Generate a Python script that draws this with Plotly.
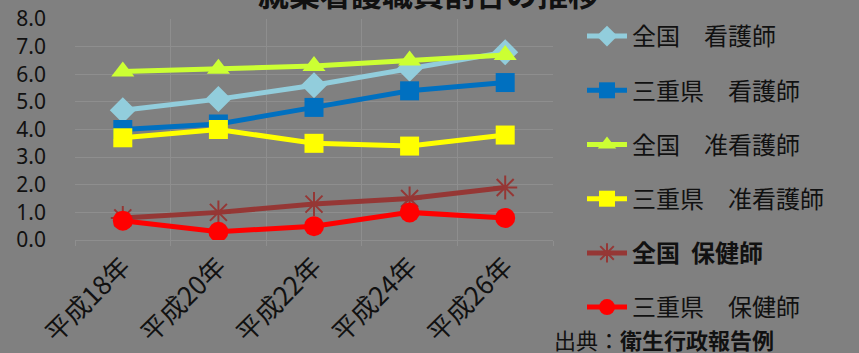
import plotly.graph_objects as go

years = ["平成18年", "平成20年", "平成22年", "平成24年", "平成26年"]

names = ["全国　看護師", "三重県　看護師", "全国　准看護師", "三重県　准看護師",
         "<b>全国  保健師</b>", "三重県　保健師"]
zenkoku_kango = [4.7, 5.1, 5.6, 6.2, 6.8]
mie_kango = [4.0, 4.2, 4.8, 5.4, 5.7]
zenkoku_junkango = [6.1, 6.2, 6.3, 6.5, 6.7]
mie_junkango = [3.7, 4.0, 3.5, 3.4, 3.8]
zenkoku_hoken = [0.8, 1.0, 1.3, 1.5, 1.9]
mie_hoken = [0.7, 0.3, 0.5, 1.0, 0.8]

series = [zenkoku_kango, mie_kango, zenkoku_junkango, mie_junkango, zenkoku_hoken, mie_hoken]
colors = ["#92cddc", "#0070c0", "#ccff33", "#ffff00", "#953735", "#ff0000"]
symbols = ["diamond", "square", "triangle-up", "square", "asterisk-open", "circle"]
sizes = [20, 19, 20, 19, 20, 20]

FONT = "Noto Sans CJK JP"
W, H = 859, 353
L, R, T, B = 75, 306, 19, 113

fig = go.Figure()
for i, (nm, vals) in enumerate(zip(names, series)):
    marker = dict(symbol=symbols[i], size=sizes[i], color=colors[i])
    if symbols[i] == "asterisk-open":
        marker["line"] = dict(color=colors[i], width=2)
    fig.add_trace(go.Scatter(
        x=years, y=vals, name=nm, mode="lines+markers",
        line=dict(color=colors[i], width=5),
        marker=marker, legendgroup=f"g{i}",
    ))

grid = "#8e8e8e"
fig.update_layout(
    width=W, height=H,
    margin=dict(l=L, r=R, t=T, b=B),
    paper_bgcolor="#808080", plot_bgcolor="#808080",
    font=dict(family=FONT, color="#111111"),
    showlegend=True,
    legend=dict(
        xref="container", yref="container",
        x=582 / W, y=1 - 14 / H, xanchor="left", yanchor="top",
        bgcolor="rgba(0,0,0,0)", font=dict(size=24, family=FONT, color="#111111"),
        tracegroupgap=20, itemwidth=40, maxheight=1.0,
    ),
    xaxis=dict(
        type="category", range=[-0.5, 4.5], automargin=False,
        showgrid=True, gridcolor=grid, gridwidth=1, tickson="boundaries",
        ticks="outside", ticklen=5, tickcolor=grid,
        showline=True, linecolor=grid, linewidth=1,
        tickangle=-45, tickfont=dict(size=26, family=FONT, color="#111111"),
    ),
    yaxis=dict(
        range=[0, 8], dtick=1, tickformat=".1f", automargin=False,
        showgrid=True, gridcolor=grid, gridwidth=1, zeroline=False,
        ticks="", ticklabelstandoff=28,
        tickfont=dict(size=21, family="Noto Sans", color="#111111"),
    ),
)

# Title (top is cut off in the reference)
fig.add_annotation(
    text="<b>就業看護職員割合の推移</b>", xref="paper", yref="paper",
    x=(428 - L) / (W - L - R), y=(H - B - (-7)) / (H - B - T),
    xanchor="center", yanchor="middle", showarrow=False,
    font=dict(size=31, family=FONT, color="#111111"),
)
# Source note
fig.add_annotation(
    text="出典：<b>衛生行政報告例</b>", xref="paper", yref="paper",
    x=(552 - L) / (W - L - R), y=(H - B - 339) / (H - B - T),
    xanchor="left", yanchor="middle", showarrow=False,
    font=dict(size=22, family=FONT, color="#111111"),
)

fig.write_html("out.html")
